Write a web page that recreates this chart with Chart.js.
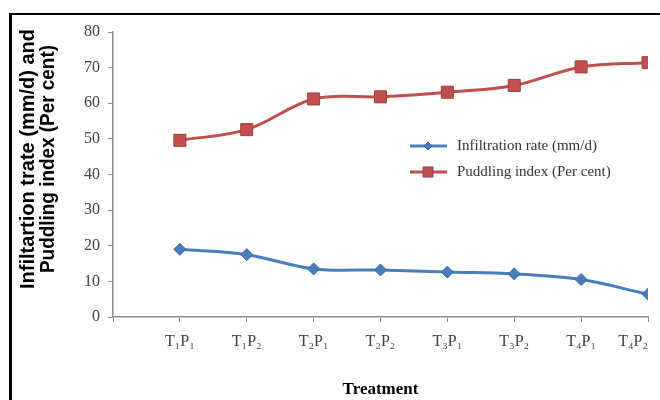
<!DOCTYPE html>
<html>
<head>
<meta charset="utf-8">
<script src="https://cdn.jsdelivr.net/npm/chart.js@4"></script>
<style>
  html, body { margin: 0; padding: 0; background: #fff; }
  #wrap { position: relative; width: 660px; height: 400px; overflow: hidden; background: #fff; }
  #frame { position: absolute; left: 9px; top: 13px; width: 700px; height: 420px;
           border-left: 3px solid #000; border-top: 2px solid #000; pointer-events: none; }
  canvas { position: absolute; left: 0; top: 0; }
</style>
</head>
<body>
<div id="wrap">
  <canvas id="c" width="690" height="400"></canvas>
  <div id="frame"></div>
</div>
<script>
// ---- data ----
const treatments = ['T\u2081P\u2081', 'T\u2081P\u2082', 'T\u2082P\u2081', 'T\u2082P\u2082',
                    'T\u2083P\u2081', 'T\u2083P\u2082', 'T\u2084P\u2081', 'T\u2084P\u2082'];
const infiltrationRate = [19.0, 17.5, 13.5, 13.2, 12.6, 12.1, 10.5, 6.4];
const puddlingIndex = [49.6, 52.6, 61.2, 61.8, 63.1, 65.0, 70.2, 71.4];
const seriesNames = ['Infiltration rate (mm/d)', 'Puddling index (Per cent)'];
const yTicks = [0, 10, 20, 30, 40, 50, 60, 70, 80];
const yTitleLines = ['Infiltartion trate (mm/d) and', 'Puddling index (Per cent)'];
const xTitle = 'Treatment';

const toPoints = arr => arr.map((v, i) => ({ x: i + 1, y: v }));

const BLUE = '#4A7EBB';
const RED = '#C0504D';
const TICK_FONT = { family: '"Liberation Serif", "Times New Roman", serif', size: 16 };

const customDraw = {
  id: 'customDraw',
  afterDraw(chart) {
    const ctx = chart.ctx;
    // y-axis title (two rotated lines)
    ctx.save();
    ctx.fillStyle = '#000';
    ctx.font = 'bold 20px "Liberation Sans", Arial, sans-serif';
    ctx.textAlign = 'center';
    ctx.textBaseline = 'middle';
    const cy = 159;
    [28, 48].forEach((x, i) => {
      ctx.save();
      ctx.translate(x, cy);
      ctx.rotate(-Math.PI / 2);
      ctx.fillText(yTitleLines[i], 0, 0, i === 0 ? 262 : 228);
      ctx.restore();
    });
    ctx.restore();

    // legend
    ctx.save();
    const rows = [146, 172];
    chart.data.datasets.forEach((ds, i) => {
      const y = rows[i];
      ctx.strokeStyle = ds.borderColor;
      ctx.lineWidth = 3;
      ctx.beginPath();
      ctx.moveTo(410, y);
      ctx.lineTo(447, y);
      ctx.stroke();
      ctx.fillStyle = ds.pointBackgroundColor;
      ctx.strokeStyle = ds.pointBorderColor;
      ctx.lineWidth = 1;
      if (ds.pointStyle === 'rectRot') {
        ctx.beginPath();
        ctx.moveTo(428, y - 4); ctx.lineTo(432, y); ctx.lineTo(428, y + 4); ctx.lineTo(424, y);
        ctx.closePath(); ctx.fill(); ctx.stroke();
      } else {
        ctx.fillRect(423, y - 5, 10, 10);
        ctx.strokeRect(423, y - 5, 10, 10);
      }
      ctx.fillStyle = '#333';
      ctx.font = '15px "Liberation Serif", "Times New Roman", serif';
      ctx.textAlign = 'left';
      ctx.textBaseline = 'middle';
      ctx.fillText(ds.label, 457, y);
    });
    ctx.restore();
  }
};

new Chart(document.getElementById('c'), {
  type: 'line',
  data: {
    datasets: [
      {
        label: seriesNames[0],
        data: toPoints(infiltrationRate),
        borderColor: BLUE,
        backgroundColor: BLUE,
        pointBackgroundColor: BLUE,
        pointBorderColor: '#3A6A9F',
        pointStyle: 'rectRot',
        pointRadius: 6,
        pointBorderWidth: 1,
        borderWidth: 3,
        tension: 0.35
      },
      {
        label: seriesNames[1],
        data: toPoints(puddlingIndex),
        borderColor: RED,
        backgroundColor: RED,
        pointBackgroundColor: RED,
        pointBorderColor: '#A33E3B',
        pointStyle: 'rect',
        pointRadius: 8.5,
        pointBorderWidth: 1,
        borderWidth: 3,
        tension: 0.35
      }
    ]
  },
  options: {
    responsive: false,
    animation: false,
    devicePixelRatio: 1,
    layout: { padding: { left: 0, top: 32, right: 42, bottom: 0 } },
    plugins: {
      legend: { display: false },
      tooltip: { enabled: false }
    },
    scales: {
      x: {
        type: 'linear',
        min: 0,
        max: 8,
        afterFit(scale) { scale.height = 83; },
        afterBuildTicks(scale) { scale.ticks = [0, 1, 2, 3, 4, 5, 6, 7, 8].map(v => ({ value: v })); },
        ticks: {
          stepSize: 1,
          autoSkip: false,
          maxRotation: 0,
          align: 'inner',
          padding: 10,
          color: '#404040',
          font: TICK_FONT,
          callback: v => (v >= 1 && v <= treatments.length ? treatments[v - 1] : '')
        },
        grid: { drawOnChartArea: false, drawTicks: true, tickLength: 5, color: '#8C8C8C' },
        border: { display: true, color: '#8C8C8C', width: 1.5 },
        title: {
          display: true,
          text: xTitle,
          color: '#000',
          font: { family: '"Liberation Serif", "Times New Roman", serif', size: 17, weight: 'bold' },
          padding: { top: 22, bottom: 0 }
        }
      },
      y: {
        min: 0,
        max: 80,
        afterFit(scale) { scale.width = 113; },
        afterBuildTicks(scale) { scale.ticks = yTicks.map(v => ({ value: v })); },
        ticks: {
          padding: 8,
          color: '#404040',
          font: TICK_FONT
        },
        grid: { drawOnChartArea: false, drawTicks: true, tickLength: 5, color: '#8C8C8C' },
        border: { display: true, color: '#8C8C8C', width: 1.5 }
      }
    }
  },
  plugins: [customDraw]
});
</script>
</body>
</html>
